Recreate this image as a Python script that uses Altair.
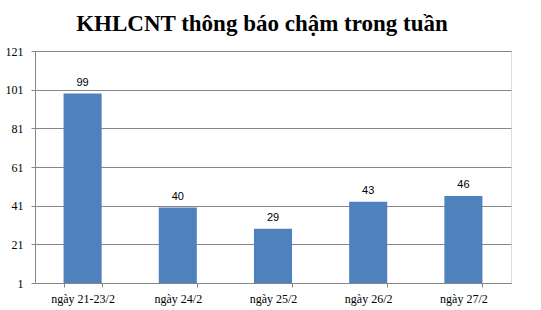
import altair as alt
import pandas as pd

categories = ["ngày 21-23/2", "ngày 24/2", "ngày 25/2", "ngày 26/2", "ngày 27/2"]
values = [99, 40, 29, 43, 46]
y_ticks = [1, 21, 41, 61, 81, 101, 121]

df = pd.DataFrame({"cat": categories, "val": values})

base = alt.Chart(df).encode(
    x=alt.X("cat:N", sort=categories, title=None,
            scale=alt.Scale(paddingInner=0.6, paddingOuter=0.3),
            axis=alt.Axis(labelAngle=0, labelFont="Liberation Serif", labelFontSize=12,
                          labelColor="black", domainColor="#868686", tickColor="#868686",
                          tickBand="extent", tickSize=4, labelPadding=6, grid=False)),
    y=alt.Y("val:Q", title=None,
            scale=alt.Scale(domain=[1, 121], nice=False, zero=False),
            axis=alt.Axis(values=y_ticks, labelFont="Liberation Serif", labelFontSize=12,
                          labelColor="black", domainColor="#868686", tickColor="#868686",
                          tickSize=4, labelPadding=8, grid=True, gridColor="#868686",
                          gridWidth=1, labelOverlap=False)),
)

bars = base.mark_bar(color="#4F81BD").encode(
    y2=alt.datum(1),
)

labels = base.mark_text(baseline="bottom", dy=-6, font="Liberation Sans",
                        fontSize=11, color="black").encode(
    text=alt.Text("val:Q"),
)

chart = (bars + labels).properties(
    width=476,
    height=232,
    autosize=alt.AutoSizeParams(type="none"),
    padding={"left": 35, "top": 51, "right": 30, "bottom": 27},
    title=alt.TitleParams("KHLCNT thông báo chậm trong tuần", font="Liberation Serif",
                          fontSize=23, fontWeight="bold", color="black",
                          baseline="alphabetic", offset=21, dx=-11, dy=30, anchor="middle"),
).configure_view(stroke=None).configure(background="white")

chart.save("out.html", embed_options={"renderer": "svg", "actions": False})
